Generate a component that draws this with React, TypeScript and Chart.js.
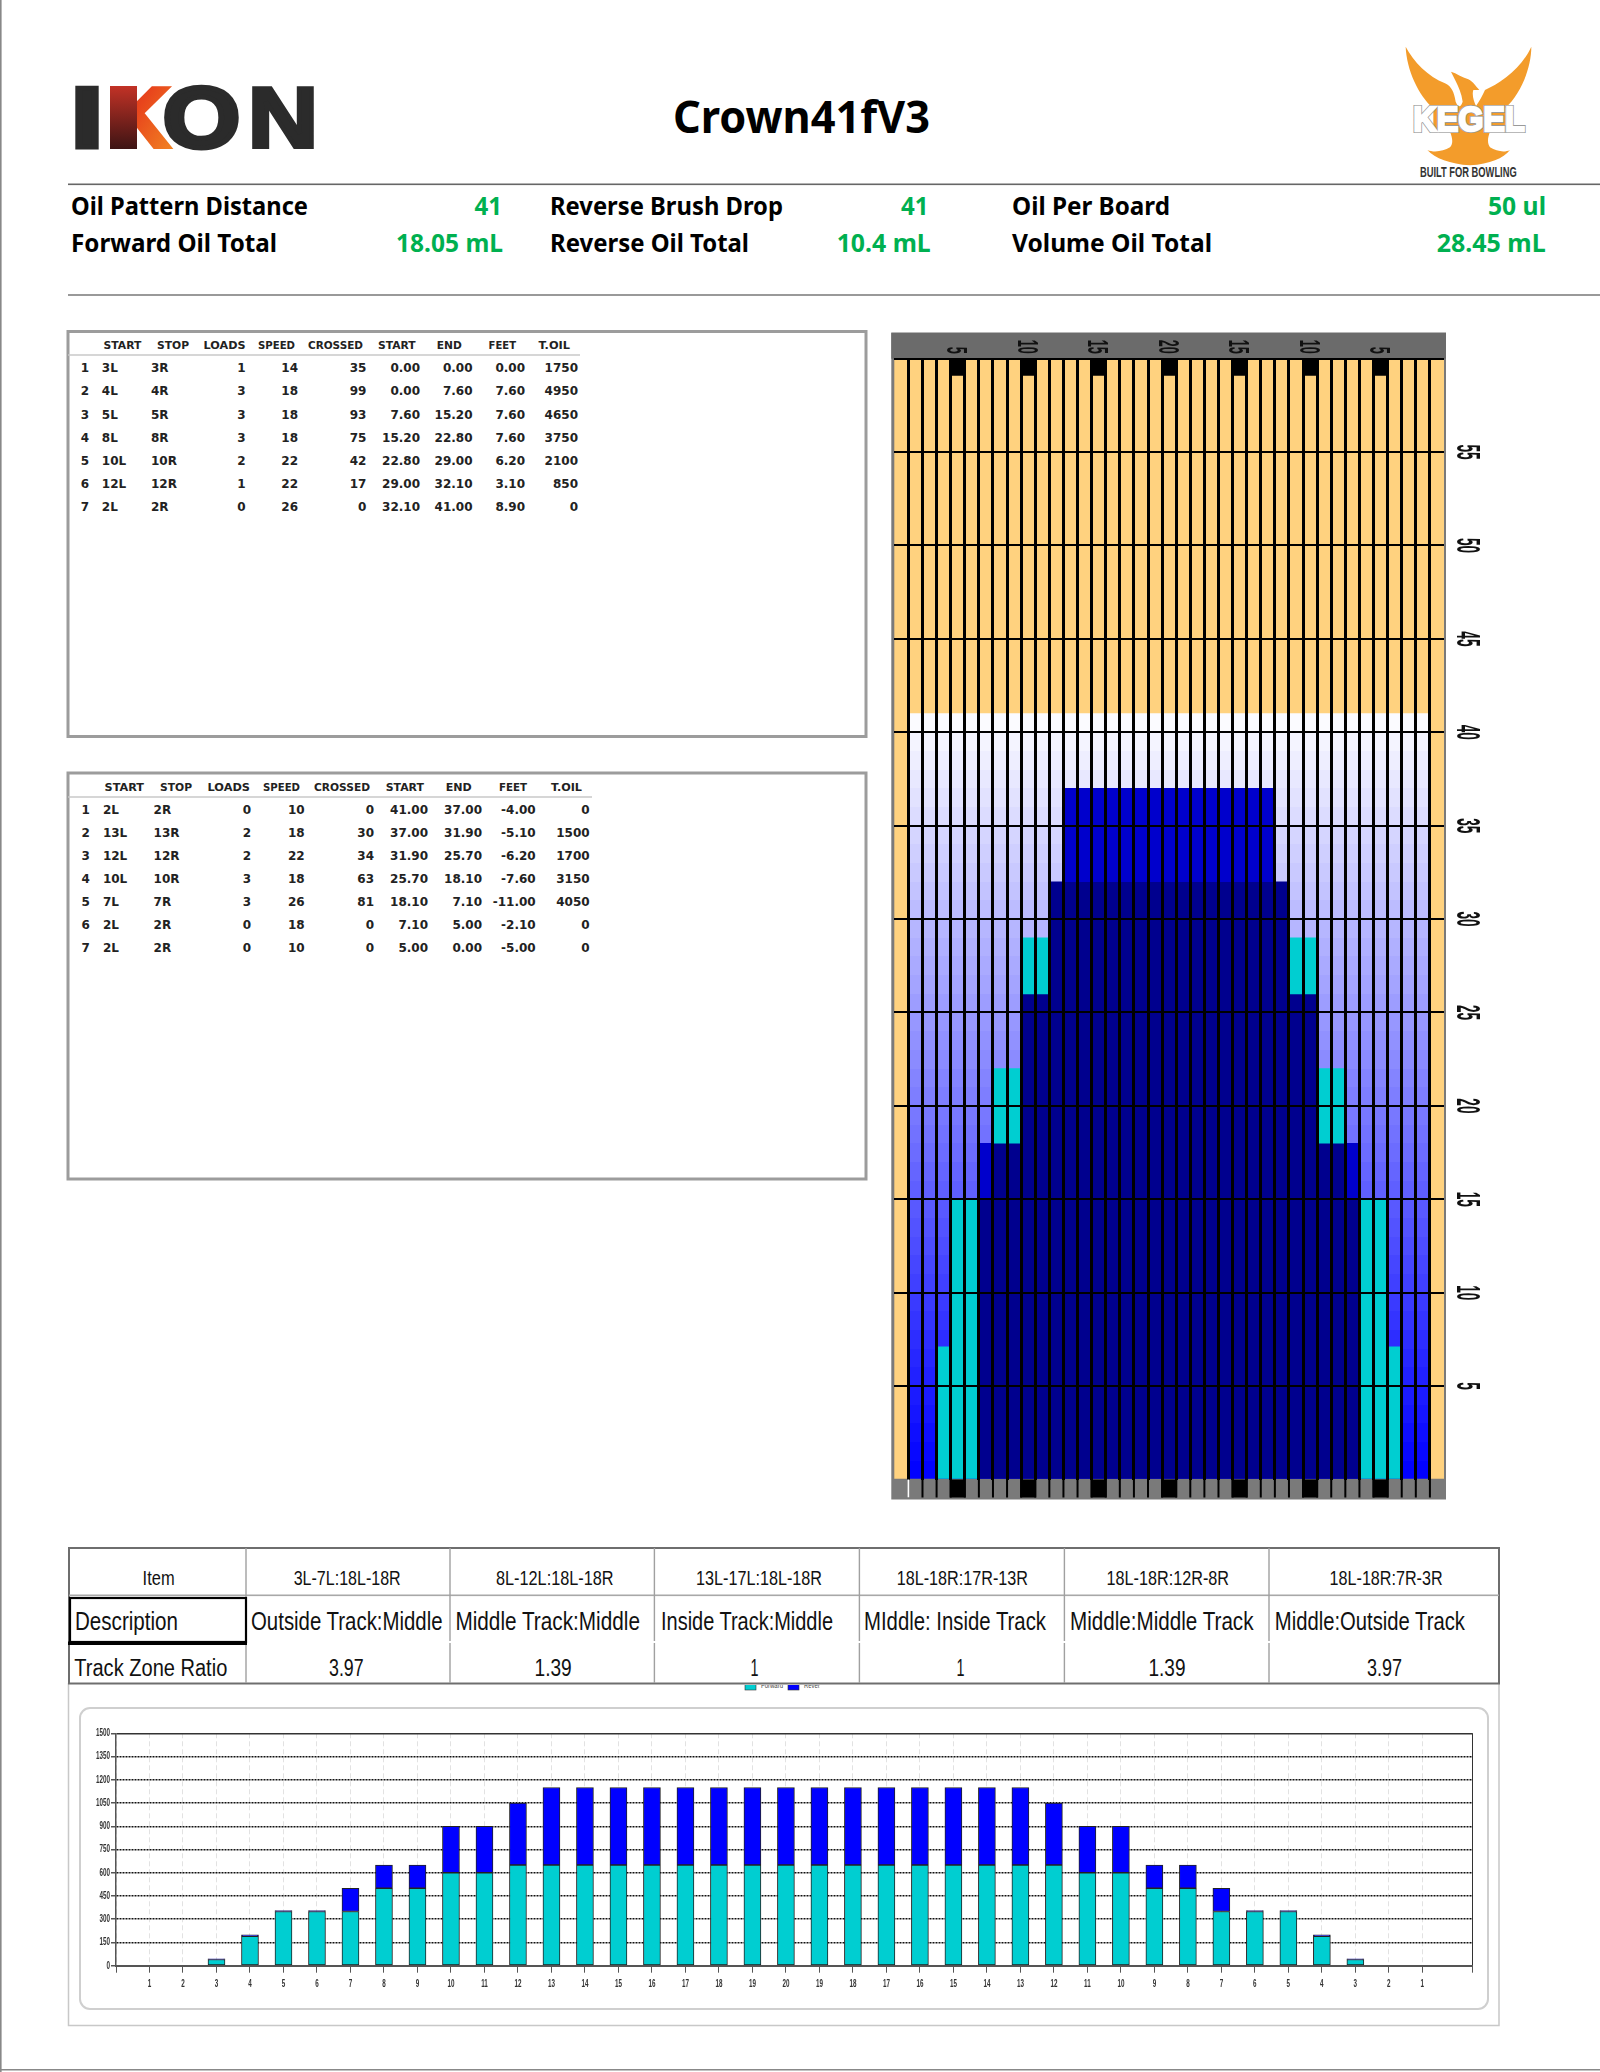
import React, { useEffect, useRef } from "react";
import { Chart, registerables } from "chart.js";

Chart.register(...registerables);

// ---------- data ----------
const patternName = "Crown41fV3";

const forwardHeaders = ["START", "STOP", "LOADS", "SPEED", "CROSSED", "START", "END", "FEET", "T.OIL"];
const forwardRows = [
  ["1", "3L", "3R", "1", "14", "35", "0.00", "0.00", "0.00", "1750"],
  ["2", "4L", "4R", "3", "18", "99", "0.00", "7.60", "7.60", "4950"],
  ["3", "5L", "5R", "3", "18", "93", "7.60", "15.20", "7.60", "4650"],
  ["4", "8L", "8R", "3", "18", "75", "15.20", "22.80", "7.60", "3750"],
  ["5", "10L", "10R", "2", "22", "42", "22.80", "29.00", "6.20", "2100"],
  ["6", "12L", "12R", "1", "22", "17", "29.00", "32.10", "3.10", "850"],
  ["7", "2L", "2R", "0", "26", "0", "32.10", "41.00", "8.90", "0"],
];
const reverseRows = [
  ["1", "2L", "2R", "0", "10", "0", "41.00", "37.00", "-4.00", "0"],
  ["2", "13L", "13R", "2", "18", "30", "37.00", "31.90", "-5.10", "1500"],
  ["3", "12L", "12R", "2", "22", "34", "31.90", "25.70", "-6.20", "1700"],
  ["4", "10L", "10R", "3", "18", "63", "25.70", "18.10", "-7.60", "3150"],
  ["5", "7L", "7R", "3", "26", "81", "18.10", "7.10", "-11.00", "4050"],
  ["6", "2L", "2R", "0", "18", "0", "7.10", "5.00", "-2.10", "0"],
  ["7", "2L", "2R", "0", "10", "0", "5.00", "0.00", "-5.00", "0"],
];

// oil graph: one entry per board, left gutter to right gutter
const boardNumbers = [
  "1","2","3","4","5","6","7","8","9","10","11","12","13","14","15","16","17","18","19","20",
  "21","22","23","24","25","26","27","28","29","30","31","32","33","34","35","36","37","38","39",
];
const boardTickLabels = ["5", "10", "15", "20", "15", "10", "5"];
const boardTickIndex = [4, 9, 14, 19, 24, 29, 34];
const oilEnd = [0,41,41,41,41,41,41,41,41,41,41,41,41,41,41,41,41,41,41,41,41,41,41,41,41,41,41,41,41,41,41,41,41,41,41,41,41,41,0];
const heavyTop = [0,0,0,0,0,0,15,18,18,26,26,32,32,32,32,32,32,32,32,32,32,32,32,32,32,32,32,32,26,26,18,18,15,0,0,0,0,0,0];
const capLow = [0,0,0,0,0,0,15,0,0,0,0,0,32,32,32,32,32,32,32,32,32,32,32,32,32,32,32,0,0,0,0,0,15,0,0,0,0,0,0];
const capHigh = [0,0,0,0,0,0,18,0,0,0,0,0,37,37,37,37,37,37,37,37,37,37,37,37,37,37,37,0,0,0,0,0,18,0,0,0,0,0,0];
const tealLow = [0,0,0,0,0,0,0,18,18,26,26,0,0,0,0,0,0,0,0,0,0,0,0,0,0,0,0,0,26,26,18,18,0,0,0,0,0,0,0];
const tealHigh = [0,0,0,7.1,15,15,0,22,22,29,29,0,0,0,0,0,0,0,0,0,0,0,0,0,0,0,0,0,29,29,22,22,0,15,15,7.1,0,0,0];

// track profile chart
const profileLabels = [
  "1","2","3","4","5","6","7","8","9","10","11","12","13","14","15","16","17","18","19","20",
  "19","18","17","16","15","14","13","12","11","10","9","8","7","6","5","4","3","2","1",
];
const forwardOil = [0,0,40,190,350,350,350,500,500,600,600,650,650,650,650,650,650,650,650,650,650,650,650,650,650,650,650,650,600,600,500,500,350,350,350,190,40,0,0];
const reverseOil = [0,0,5,10,5,5,150,150,150,300,300,400,500,500,500,500,500,500,500,500,500,500,500,500,500,500,500,400,300,300,150,150,150,5,5,10,5,0,0];

// track zone ratio table
const zoneItems = ["Item","3L-7L:18L-18R","8L-12L:18L-18R","13L-17L:18L-18R","18L-18R:17R-13R","18L-18R:12R-8R","18L-18R:7R-3R"];
const zoneDescriptions = ["Description","Outside Track:Middle","Middle Track:Middle","Inside Track:Middle","MIddle: Inside Track","Middle:Middle Track","Middle:Outside Track"];
const zoneRatios = ["Track Zone Ratio","3.97","1.39","1","1","1.39","3.97"];

// ---------- colours ----------
const ORANGE = "#FFD27F";
const NAVY = "#00008E";
const CAP = "#0000CC";
const TEAL = "#00CED1";
const BLUE = "#0000FF";
const STAT_GREEN = "#00B050";
const NARROW = "'Liberation Sans Narrow','Liberation Sans',sans-serif";

function span(lo: number[], hi: number[]) {
  return hi.map((h, i) => (h > lo[i] ? [lo[i], h] : null));
}

function fadeGradient(chart: any) {
  const y = chart.scales.y;
  const top = y.getPixelForValue(41);
  const bottom = y.getPixelForValue(0);
  const g = chart.ctx.createLinearGradient(0, top, 0, bottom);
  const bands = 41;
  for (let k = 0; k < bands; k++) {
    const v = Math.round(255 * (1 - (k + 0.7) / bands));
    const c = `rgb(${v},${v},255)`;
    g.addColorStop(k / bands, c);
    g.addColorStop((k + 1) / bands, c);
  }
  return g;
}

const oilPlugin = {
  id: "oilFrame",
  afterLayout(chart: any) {
    const ds = chart.data.datasets.find((d: any) => d.label === "fade");
    ds.backgroundColor = fadeGradient(chart);
  },
  beforeDraw(chart: any) {
    const { ctx, chartArea: a } = chart;
    ctx.save();
    ctx.fillStyle = "#7a7a7a";
    ctx.fillRect(a.left - 3, a.top - 26, a.right - a.left + 5, a.bottom - a.top + 46);
    ctx.fillStyle = "#6b6b6b";
    ctx.fillRect(a.left - 3, a.top - 26, a.right - a.left + 5, 26);
    ctx.restore();
  },
  afterDraw(chart: any) {
    const { ctx, chartArea: a, scales } = chart;
    const x = scales.x;
    const y = scales.y;
    const cell = x.getPixelForTick(1) - x.getPixelForTick(0);
    ctx.save();
    // bottom band: dividers, tabs and the stray caret
    ctx.fillStyle = "#000";
    for (let i = 1; i < boardNumbers.length; i++) {
      const px = x.getPixelForTick(i) - cell / 2;
      ctx.fillRect(px - 1, a.bottom, 2, 18);
    }
    boardTickIndex.forEach((i) => {
      ctx.fillRect(x.getPixelForTick(i) - 8, a.bottom, 16, 18);
    });
    ctx.fillStyle = "#fff";
    ctx.fillRect(x.getPixelForTick(0) + cell / 2 - 1, a.bottom, 2, 18);

    // stretched, rotated tick labels
    ctx.fillStyle = "#111";
    ctx.textBaseline = "alphabetic";
    ctx.font = "bold 30px 'Liberation Sans'";
    ctx.textAlign = "right";
    boardTickIndex.forEach((idx, k) => {
      ctx.save();
      ctx.translate(x.getPixelForTick(idx) - 10.5, a.top - 5);
      ctx.rotate(Math.PI / 2);
      ctx.scale(0.42, 1);
      ctx.fillText(boardTickLabels[k], 0, 0);
      ctx.restore();
    });
    ctx.font = "bold 34px 'Liberation Sans'";
    ctx.textAlign = "center";
    y.ticks.forEach((t: any) => {
      if (t.value <= 0 || t.value >= 60) return;
      ctx.save();
      ctx.translate(a.right + 13, y.getPixelForValue(t.value));
      ctx.rotate(Math.PI / 2);
      ctx.scale(0.4, 1);
      ctx.fillText(String(t.value), 0, 0);
      ctx.restore();
    });
    ctx.restore();
  },
};

function OilGraph() {
  const ref = useRef<HTMLCanvasElement>(null);
  useEffect(() => {
    const chart = new Chart(ref.current!, {
      type: "bar",
      data: {
        labels: boardNumbers,
        // the first dataset is painted last
        datasets: [
          {
            label: "arrows",
            data: boardNumbers.map((_, i) => (boardTickIndex.includes(i) ? [59.1, 60] : null)),
            backgroundColor: "#000",
          },
          { label: "teal", data: span(tealLow, tealHigh), backgroundColor: TEAL },
          { label: "cap", data: span(capLow, capHigh), backgroundColor: CAP },
          { label: "heavy", data: span(heavyTop.map(() => 0), heavyTop), backgroundColor: NAVY },
          { label: "fade", data: span(oilEnd.map(() => 0), oilEnd), backgroundColor: "#8888ff" },
          { label: "dry", data: boardNumbers.map((_, i) => [oilEnd[i], 60]), backgroundColor: ORANGE },
        ],
      } as any,
      options: {
        animation: false,
        responsive: false,
        layout: { padding: { left: 14.3, right: 56, top: 38.7, bottom: 40.5 } },
        plugins: { legend: { display: false }, tooltip: { enabled: false } },
        datasets: { bar: { barPercentage: 1, categoryPercentage: 1, grouped: false, borderWidth: 0 } },
        scales: {
          x: {
            type: "category",
            ticks: { display: false },
            border: { display: false },
            grid: {
              offset: true,
              z: 1,
              drawTicks: false,
              lineWidth: 3,
              color: (c: any) => (c.type === "tick" && c.index > 0 ? "#000" : "rgba(0,0,0,0)"),
            },
          },
          y: {
            min: 0,
            max: 60,
            ticks: { display: false, stepSize: 5 },
            border: { display: false },
            grid: {
              z: 1,
              drawTicks: false,
              lineWidth: 2,
              color: (c: any) => (c.tick && c.tick.value === 0 ? "rgba(0,0,0,0)" : "#000"),
            },
          },
        },
      } as any,
      plugins: [oilPlugin],
    });
    return () => chart.destroy();
  }, []);
  return <canvas ref={ref} width={620} height={1200} style={{ position: "absolute", left: 880, top: 320, width: 620, height: 1200 }} />;
}

const profileTickPlugin = {
  id: "profileTicks",
  afterDraw(chart: any) {
    const { ctx, scales, chartArea: a } = chart;
    ctx.save();
    ctx.fillStyle = "#333";
    ctx.font = "bold 10.5px 'Liberation Sans'";
    ctx.textBaseline = "middle";
    ctx.textAlign = "right";
    scales.y.ticks.forEach((t: any) => {
      ctx.save();
      ctx.translate(a.left - 6, scales.y.getPixelForValue(t.value));
      ctx.scale(0.6, 1);
      ctx.fillText(String(t.value), 0, 0);
      ctx.restore();
    });
    ctx.textAlign = "center";
    profileLabels.forEach((label, i) => {
      ctx.save();
      ctx.translate(scales.x.getPixelForValue(i + 1), a.bottom + 18.5);
      ctx.scale(0.6, 1);
      ctx.fillText(label, 0, 0);
      ctx.restore();
    });
    ctx.restore();
  },
};

function ProfileChart() {
  const ref = useRef<HTMLCanvasElement>(null);
  useEffect(() => {
    const chart = new Chart(ref.current!, {
      type: "bar",
      data: {
        datasets: [
          {
            label: "Forward",
            data: forwardOil.map((v, i) => ({ x: i + 1, y: v })),
            backgroundColor: TEAL,
          },
          {
            label: "Reverse",
            data: reverseOil.map((v, i) => ({ x: i + 1, y: v })),
            backgroundColor: BLUE,
          },
        ],
      } as any,
      options: {
        animation: false,
        responsive: false,
        layout: { padding: { left: 0, right: 17.4, top: 33.3, bottom: 0 } },
        plugins: { legend: { display: false }, tooltip: { enabled: false } },
        datasets: { bar: { barThickness: 17, borderWidth: 1, borderColor: "#222", borderSkipped: false } },
        scales: {
          x: {
            type: "linear",
            stacked: true,
            offset: false,
            min: 0,
            max: 40.5,
            afterFit: (s: any) => { s.height = 44.3; },
            afterBuildTicks: (s: any) => {
              s.ticks = [...profileLabels.map((_, i) => ({ value: i })), { value: profileLabels.length }, { value: 40.5 }];
            },
            ticks: { autoSkip: false, maxRotation: 0, color: "rgba(0,0,0,0)", padding: 5, callback: () => "" },
            border: {
              color: "#555",
              width: 2,
              dash: (c: any) => (c.tick && c.tick.value === 40.5 ? [] : [5, 3]),
            },
            grid: {
              offset: false,
              tickLength: 7,
              tickColor: "#555",
              tickBorderDash: [],
              color: (c: any) => (c.tick && c.tick.value === 40.5 ? "#333" : "#e2e2e2"),
            },
          },
          y: {
            stacked: true,
            min: 0,
            max: 1500,
            afterFit: (s: any) => { s.width = 46; },
            ticks: { stepSize: 150, color: "rgba(0,0,0,0)", padding: 1, callback: () => "" },
            border: {
              color: "#555",
              width: 1.5,
              dash: (c: any) => (c.tick && (c.tick.value === 1500 || c.tick.value === 0) ? [] : [2, 1]),
            },
            grid: {
              tickLength: 5,
              tickColor: "#555",
              tickBorderDash: [],
              lineWidth: 1.5,
              color: (c: any) => (c.tick && c.tick.value === 1500 ? "#333" : "#111"),
            },
          },
        },
      } as any,
      plugins: [profileTickPlugin],
    });
    return () => chart.destroy();
  }, []);
  return <canvas ref={ref} width={1420} height={310} style={{ position: "absolute", left: 70, top: 1700, width: 1420, height: 310 }} />;
}

// ---------- static text helpers ----------
function T(p: any) {
  const { x, y, w, size, weight, fill, font, anchor, children, ...rest } = p;
  return (
    <text
      x={x}
      y={y}
      fontSize={size}
      fontWeight={weight || "normal"}
      fill={fill || "#000"}
      fontFamily={font || "'Liberation Sans',sans-serif"}
      textAnchor={anchor || "start"}
      {...(w ? { textLength: w, lengthAdjust: "spacingAndGlyphs" } : {})}
      {...rest}
    >
      {children}
    </text>
  );
}

const STAT = "'Noto Sans',sans-serif";
function Stat({ x, y, w, color, children }: any) {
  return <T x={x} y={y} w={w} size={25} weight="700" font={STAT} fill={color}>{children}</T>;
}

const TBL = "'DejaVu Sans',sans-serif";
function OilTable({ rows, headY, lineY, lineEnd, firstRow, headCols, idX, startX, stopX, rightX }: any) {
  return (
    <g>
      <line x1={68} x2={lineEnd} y1={lineY} y2={lineY} stroke="#c9c9c9" strokeWidth={1.3} />
      {forwardHeaders.map((h, i) => (
        <T key={i} x={headCols[i][0]} y={headY + 4} w={headCols[i][1]} size={11} weight="700" font={TBL} fill="#222">{h}</T>
      ))}
      {rows.map((r: string[], ri: number) => {
        const yy = firstRow + ri * 23.05 + 4.4;
        return (
          <g key={ri}>
            <T x={idX} y={yy} size={12} weight="700" font={TBL} fill="#222">{r[0]}</T>
            <T x={startX} y={yy} size={12} weight="700" font={TBL} fill="#222">{r[1]}</T>
            <T x={stopX} y={yy} size={12} weight="700" font={TBL} fill="#222">{r[2]}</T>
            {r.slice(3).map((v, i) => (
              <T key={i} x={rightX[i]} y={yy} size={12} weight="700" font={TBL} fill="#222" anchor="end">{v}</T>
            ))}
          </g>
        );
      })}
    </g>
  );
}

const zoneCols = [69, 246, 450, 654.4, 859.4, 1064.4, 1269, 1499];
const itemPos = [[142.6, 32], [293.7, 107], [496, 117.6], [696, 126], [896.7, 131.3], [1106.6, 122.4], [1329.6, 113]];
const descPos = [[75, 103], [251, 191.6], [455.4, 184.6], [661, 172], [864, 182], [1070, 183.5], [1274.8, 190.2]];
const ratioPos = [[74.3, 153], [329, 34.6], [534.5, 37.2], [750.5, 8], [956.5, 8], [1148.5, 37], [1366.9, 35]];

export default function App() {
  return (
    <div style={{ position: "absolute", left: 0, top: 0, width: 1600, height: 2072, background: "#fff", overflow: "hidden" }}>
      <svg width={1600} height={2072} style={{ position: "absolute", left: 0, top: 0 }}>
        <defs>
          <linearGradient id="k" x1="0" y1="0" x2="1" y2="1">
            <stop offset="0" stopColor="#c8281e" />
            <stop offset="0.45" stopColor="#e8451c" />
            <stop offset="1" stopColor="#f28a24" />
          </linearGradient>
          <linearGradient id="kstem" x1="0" y1="0" x2="0" y2="1">
            <stop offset="0" stopColor="#c23226" />
            <stop offset="1" stopColor="#3d1414" />
          </linearGradient>
          <clipPath id="legendClip"><rect x={730} y={1685} width={90} height={6} /></clipPath>
        </defs>

        {/* page edges */}
        <rect x={0} y={0} width={1.6} height={2072} fill="#888" />
        <rect x={0} y={2069} width={1600} height={1.5} fill="#888" />

        {/* IKON logo */}
        <T x={71} y={147} w={32} size={85} weight="700" fill="#2b2b2b" stroke="#2b2b2b" strokeWidth={5}>I</T>
        <T x={108} y={147} w={62} size={85} weight="700" fill="url(#k)" stroke="url(#k)" strokeWidth={4}>K</T>
        <rect x={110} y={86} width={27} height={63} fill="url(#kstem)" />
        <T x={163} y={147} w={77} size={85} weight="700" fill="#2b2b2b" stroke="#2b2b2b" strokeWidth={5}>O</T>
        <T x={248} y={147} w={70} size={85} weight="700" fill="#2b2b2b" stroke="#2b2b2b" strokeWidth={4}>N</T>

        {/* title */}
        <T x={673} y={133} w={257} size={44} weight="700" font={STAT}>{patternName}</T>

        {/* KEGEL logo */}
        <g transform="translate(1390,30) scale(0.3333)">
          <path
            fill="#F39C2B"
            d="M47 50 C70 95 115 140 165 160 C185 170 192 185 197 215 C205 235 212 232 218 215 C215 190 205 170 198 155 L183 125 C200 130 215 142 235 148 C250 155 258 170 268 180 L250 180 C245 195 252 215 258 228 C268 215 278 195 285 180 C330 160 395 115 424 50 C424 110 395 190 345 235 L345 305 L300 305 C292 325 292 340 300 352 C320 365 345 368 360 360 C340 385 300 402 240 406 C180 402 135 385 112 360 C130 368 160 365 180 352 C190 340 188 325 180 305 L130 305 L130 235 C85 195 50 120 47 50 Z"
          />
          <T x={70} y={304} w={334} size={104} weight="700" fill="#9a9a9a" stroke="#9a9a9a" strokeWidth={12}>KEGEL</T>
          <T x={70} y={304} w={334} size={104} weight="700" fill="#fff" stroke="#fff" strokeWidth={7}>KEGEL</T>
          <T x={90} y={442} w={290} size={42} weight="700" fill="#333">BUILT FOR BOWLING</T>
        </g>

        {/* header rules */}
        <rect x={68} y={183.5} width={1532} height={1.6} fill="#666" />
        <rect x={68} y={294} width={1532} height={2} fill="#999" />

        {/* statistics */}
        <Stat x={71} y={215} w={237}>Oil Pattern Distance</Stat>
        <Stat x={474.5} y={215} w={27.5} color={STAT_GREEN}>41</Stat>
        <Stat x={550} y={215} w={233}>Reverse Brush Drop</Stat>
        <Stat x={901} y={215} w={27.5} color={STAT_GREEN}>41</Stat>
        <Stat x={1012} y={215} w={158}>Oil Per Board</Stat>
        <Stat x={1488} y={215} w={58} color={STAT_GREEN}>50 ul</Stat>
        <Stat x={71} y={252} w={206}>Forward Oil Total</Stat>
        <Stat x={396} y={252} w={107} color={STAT_GREEN}>18.05 mL</Stat>
        <Stat x={550} y={252} w={199}>Reverse Oil Total</Stat>
        <Stat x={836.7} y={252} w={94} color={STAT_GREEN}>10.4 mL</Stat>
        <Stat x={1012} y={252} w={200}>Volume Oil Total</Stat>
        <Stat x={1436.7} y={252} w={109} color={STAT_GREEN}>28.45 mL</Stat>

        {/* forward and reverse tables */}
        <rect x={68} y={331.5} width={798} height={405} fill="none" stroke="#9c9c9c" strokeWidth={3} />
        <rect x={68} y={773} width={798} height={406} fill="none" stroke="#9c9c9c" strokeWidth={3} />
        <OilTable
          rows={forwardRows}
          headY={345}
          lineY={355}
          lineEnd={580}
          firstRow={368}
          idX={80.7}
          startX={101.8}
          stopX={151}
          rightX={[245.7, 298, 366.4, 420, 472.5, 525, 578]}
          headCols={[[103.6, 37.8], [157, 32], [203.6, 42], [258, 37], [308, 55], [378, 37.7], [436.8, 25], [488.6, 27.4], [538.6, 31.4]]}
        />
        <OilTable
          rows={reverseRows}
          headY={786.7}
          lineY={797}
          lineEnd={592}
          firstRow={809.3}
          idX={81.4}
          startX={102.9}
          stopX={153.6}
          rightX={[251, 304.6, 374, 428, 482, 535.7, 589.6]}
          headCols={[[104.6, 39.4], [160, 32], [207.5, 42.5], [263, 37], [314, 56], [385.7, 38.3], [445.7, 26], [499, 28], [551, 31]]}
        />

        {/* profile frame and clipped legend */}
        <path d="M68.5 1683 V2025.5 H1499 V1683" fill="none" stroke="#c8c8c8" strokeWidth={1.5} />
        <rect x={80} y={1708} width={1408} height={301} rx={10} fill="#fff" stroke="#cfcfcf" strokeWidth={2} />
        <g clipPath="url(#legendClip)">
          <rect x={745} y={1680} width={11} height={10} fill={TEAL} stroke="#333" strokeWidth={0.6} />
          <T x={761} y={1688} w={22} size={8} fill="#444">Forward</T>
          <rect x={788} y={1680} width={11} height={10} fill={BLUE} stroke="#333" strokeWidth={0.6} />
          <T x={804} y={1688} w={22} size={8} fill="#444">Reverse</T>
        </g>

        {/* track zone table */}
        <rect x={69} y={1548} width={1430} height={135.5} fill="none" stroke="#6e6e6e" strokeWidth={2} />
        <rect x={69} y={1594.5} width={1430} height={1.6} fill="#a8a8a8" />
        {zoneCols.slice(1, -1).map((c, i) => (
          <g key={i}>
            <rect x={c - 0.7} y={1548} width={1.4} height={93} fill="#a0a0a0" />
            <rect x={c - 0.7} y={1643} width={1.4} height={40} fill="#a0a0a0" />
          </g>
        ))}
        <rect x={70} y={1598} width={176} height={44} fill="#fff" stroke="#000" strokeWidth={2.2} />
        <rect x={68} y={1641.5} width={179} height={3.5} fill="#000" />
        {zoneItems.map((s, i) => (
          <T key={i} x={itemPos[i][0]} y={1584.5} w={itemPos[i][1]} size={20} font={NARROW} fill="#111">{s}</T>
        ))}
        {zoneDescriptions.map((s, i) => (
          <T key={i} x={descPos[i][0]} y={1629.5} w={descPos[i][1]} size={25} font={NARROW} fill="#111">{s}</T>
        ))}
        {zoneRatios.map((s, i) => (
          <T key={i} x={ratioPos[i][0]} y={1676} w={ratioPos[i][1]} size={23} font={NARROW} fill="#111">{s}</T>
        ))}
      </svg>
      <OilGraph />
      <ProfileChart />
    </div>
  );
}
